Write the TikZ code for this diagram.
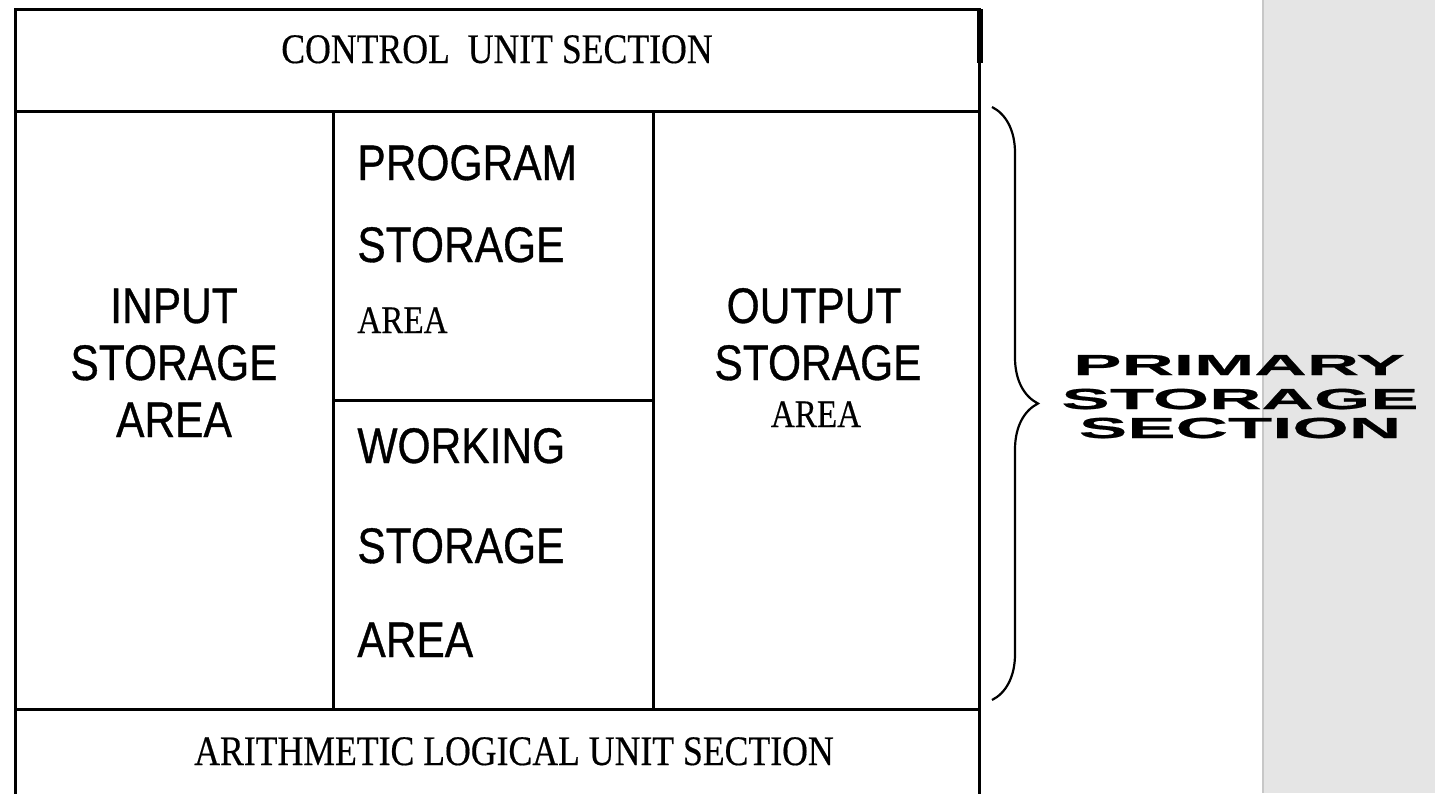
\documentclass[tikz,border=0pt]{standalone}
\usepackage{fontspec}
\setmainfont{Liberation Serif}[FakeStretch=0.85, FakeBold=0.4]
\newfontfamily\arialfont{Liberation Sans}[FakeStretch=0.85, FakeBold=0.7]
\newfontfamily\widefont{Liberation Sans Bold}[FakeStretch=2.5, FakeBold=0.6]
\usetikzlibrary{decorations.pathreplacing}

\tikzset{
  wall/.style={line width=1.5pt, line cap=rect},
  unitlabel/.style={anchor=base, inner sep=0pt, font=\fontsize{21}{24}\selectfont},
  arealabel/.style={anchor=base, inner sep=0pt, font=\arialfont\fontsize{25}{28}\selectfont},
  smallarea/.style={anchor=base, inner sep=0pt, font=\fontsize{19.5}{22}\selectfont},
  sidelabel/.style={anchor=base, inner sep=0pt, font=\widefont\fontsize{14.5}{16}\selectfont},
}

\begin{document}
\begin{tikzpicture}[x=0.5pt, y=-0.5pt]
\useasboundingbox (0,0) rectangle (1435,793);

%Grey margin.
\fill[black!10] (1262,0) rectangle (1435,793);
\draw[black!22, line width=0.8pt] (1263,0) -- (1263,793);

%Setup walls.
\draw[wall] (15,795) -- (15,9) -- (979,9) -- (979,795);
\draw[wall] (15,111) -- (979,111);
\draw[wall] (15,709) -- (979,709);
\draw[wall] (333,111) -- (333,709);
\draw[wall] (653,111) -- (653,709);
\draw[wall] (333,400) -- (653,400);
\draw[line width=3pt] (980,9) -- (980,63);

%Brace.
\draw[line width=1.1pt, decorate, decoration={brace, amplitude=23pt}] (992,107) -- (992,700);

%Declare nodes.
\node[unitlabel] (cu) at (497,63) {CONTROL\ \ UNIT SECTION};
\node[unitlabel] (alu) at (514,765) {ARITHMETIC LOGICAL UNIT SECTION};

\node[arealabel] (in1) at (174,323) {INPUT};
\node[arealabel] (in2) at (174,380) {STORAGE};
\node[arealabel] (in3) at (174,437) {AREA};

\node[arealabel, anchor=base west] (pg1) at (357,180) {PROGRAM};
\node[arealabel, anchor=base west] (pg2) at (357,262) {STORAGE};
\node[smallarea, anchor=base west] (pg3) at (357,333) {AREA};

\node[arealabel, anchor=base west] (wk1) at (357,463) {WORKING};
\node[arealabel, anchor=base west] (wk2) at (357,563) {STORAGE};
\node[arealabel, anchor=base west] (wk3) at (357,657) {AREA};

\node[arealabel] (out1) at (814,323) {OUTPUT};
\node[arealabel] (out2) at (818,380) {STORAGE};
\node[smallarea] (out3) at (816,427) {AREA};

\node[sidelabel] (ps1) at (1239,375) {PRIMARY};
\node[sidelabel] (ps2) at (1240,409) {STORAGE};
\node[sidelabel] (ps3) at (1240,438) {SECTION};

\end{tikzpicture}
\end{document}
